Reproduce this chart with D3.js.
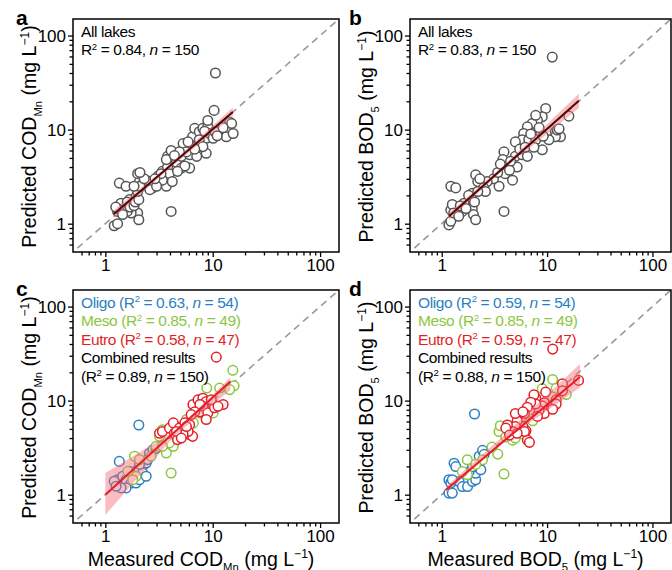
<!DOCTYPE html>
<html><head><meta charset="utf-8">
<script src="https://cdn.jsdelivr.net/npm/d3@7"></script>
<style>body{margin:0;background:#fff}svg text{font-family:"Liberation Sans",Arial,sans-serif}</style>
</head><body><svg id="chart" width="672" height="570"></svg>
<script>
// ---------- data ----------
const majorTicks = [1, 10, 100];
const minorTicks = [0.6,0.7,0.8,0.9,2,3,4,5,6,7,8,9,20,30,40,50,60,70,80,90];
const axisDomain = [0.5, 150];

// Panel a: COD_Mn all lakes (measured, predicted)
const codAll = [[1.35,2.7],[1.21,0.95],[1.3,1.0],[1.3,1.35],[1.4,1.65],[1.68,1.8],[1.8,1.4],[1.56,2.5],[2.08,2.8],[2.0,3.4],[1.94,1.95],[2.0,1.3],[2.05,1.1],[1.74,1.3],[2.2,2.6],[2.4,2.9],[2.77,2.4],[2.6,2.8],
[1.3,1.45],[1.5,1.4],[1.6,1.35],[1.6,1.7],[1.7,1.5],[1.85,1.55],[1.9,1.7],[2.05,1.8],[2.0,2.2],[2.1,2.5],[1.45,1.25],[1.85,2.5],[2.3,3.0],[2.6,2.3],[2.1,3.5],[1.25,1.5],
[3.1,3.2],[3.4,3.6],[3.7,2.5],[3.8,4.0],[3.8,5.2],[4.1,6.0],[4.2,4.8],[3.95,3.4],[4.1,1.35],[4.6,4.5],[5.1,5.2],[5.3,7.1],[5.1,3.9],[6.1,3.9],[6.1,5.4],[6.3,6.6],[6.5,8.4],[6.8,10.3],[7.1,5.2],[7.5,6.6],[7.5,9.5],[8.1,10.3],[8.7,8.1],[8.7,5.6],[9.0,10.8],[9.4,9.1],[10.3,16],[10.1,8.1],[10.5,9.5],[13.4,8.4],[14.4,12],[15.5,9.1],[15,11.6],[5.7,5.8],[4.9,5.8],[3.7,4.8],[3.4,2.9],[4.2,2.8],[3.0,2.5],[5.9,7.4],[7.5,7.8],[8.1,6.6],[5.5,4.1],[4.7,3.6],[10.6,40],[3.3,3.4],[2.9,3.0],[4.4,5.3],[6.8,6.2],[8.4,9.6],[9.0,12.5],[11,8.6],[12.5,10.5]];

// Panel b: BOD5 all lakes
const bodAll = [[11.2,59],[9.7,16.8],[16.1,13.9],[12,9.5],[13.4,8.4],[12,8.4],[12.5,9.9],[9.0,13.7],[8.1,12.6],[7.2,11.6],[7.8,14.2],[6.5,10.7],[6.0,9.1],[5.8,7.8],[6.7,7.8],[8.7,9.1],[9.0,6.1],[7.8,7.8],[10.4,7.8],[5.0,7.4],[5.0,5.2],[5.8,5.4],[5.2,4.0],[6.5,5.2],[3.9,5.8],[3.8,4.8],[3.8,4.1],[4.0,3.4],[4.7,2.9],[3.5,2.5],[3.9,1.35],[3.1,3.0],[2.7,2.8],[2.4,2.5],[2.1,3.3],[2.2,2.8],[1.95,2.1],[1.8,1.7],[1.22,2.5],[1.36,2.4],[1.22,1.4],[1.26,1.6],[1.17,0.97],[1.22,1.06],[1.57,1.35],[1.63,1.65],[1.95,1.45],[2.0,1.25],[2.1,1.1],[1.8,2.0],[2.5,2.4],
[1.3,1.3],[1.5,1.55],[2.05,1.7],[2.3,3.0],[2.6,2.2],[3.4,3.5],[3.6,4.3],[4.5,4.6],[4.4,3.7],[5.5,6.2],[6.2,6.5],[7.0,9.0],[8.4,10.5],[9.2,8.5],[13,10.2],[7.5,6.5],[1.45,1.2],[1.7,1.45],[2.2,2.2]];

// Panel c: COD_Mn by trophic state
const codOligo = [[2.05,5.5],[1.35,2.26],[1.3,1.44],[1.21,1.39],[1.45,1.57],[1.56,1.44],[1.74,1.33],[1.93,1.33],[2.08,1.44],[1.8,1.7],[2.23,2.0],[2.4,2.17],[2.58,2.77],[2.77,3.0],[2.48,2.36],[2.0,1.85],[2.23,1.7],[1.56,1.18],[1.4,1.18],[1.26,1.23],[2.4,1.57],[2.97,3.1],[2.08,2.1],[1.68,1.77]];
const codMeso = [[15.4,21],[15.8,14.4],[8.8,13.6],[14.4,13.1],[4.1,1.7],[1.87,2.56],[1.93,1.57],[1.8,1.44],[2.97,3.27],[3.2,4.17],[3.4,4.9],[3.7,2.77],[4.3,3.27],[4.6,5.3],[5.7,6.3],[7.6,7.4],[9.4,8.4],[10.1,7.4],[6.6,5.8],[4.9,4.0],[3.95,3.55],[2.67,2.56],[2.08,2.36],[11.6,13.6],[1.62,1.77],[3.4,3.27]];
const codEutro = [[10.8,29],[3.2,4.5],[3.4,4.7],[3.96,5.1],[4.3,5.8],[4.4,4.5],[4.7,3.85],[4.9,5.1],[5.5,5.8],[6.1,5.55],[6.1,4.35],[6.5,4.17],[5.9,4.7],[5.3,4.35],[5.7,5.3],[7.6,7.6],[7.0,8.7],[6.55,9.1],[7.3,10.2],[8.1,10.6],[8.7,9.8],[8.1,8.7],[9.0,7.4],[8.7,6.3],[10.1,9.1],[10.4,8.4],[7.6,9.1],[12.5,9.1],[6.8,7.6],[6.3,7.1],[9.7,10.2],[11.2,8.7],[4.6,4.7],[5.1,4.0]];

// Panel d: BOD5 by trophic state
const bodOligo = [[2.05,7.2],[1.31,2.16],[1.36,1.99],[1.17,1.44],[1.22,1.33],[1.17,1.04],[1.26,1.04],[1.46,1.38],[1.57,1.22],[1.76,1.22],[1.96,1.38],[2.1,1.44],[2.1,1.69],[1.82,1.76],[2.27,2.16],[2.27,2.56],[2.44,2.96],[2.53,2.68],[2.1,1.98],[2.35,1.84],[1.96,1.98],[1.26,1.44]];
const bodMeso = [[11.3,16.8],[9.0,13.4],[15.2,11.6],[3.9,1.66],[1.75,2.35],[1.75,1.63],[1.57,1.76],[3.5,4.7],[3.6,5.4],[3.4,2.7],[4.06,4.1],[4.7,3.8],[5.9,4.4],[7.3,6.1],[9.0,7.3],[11.3,11.0],[3.0,3.2],[2.44,2.35],[2.1,2.1],[12.2,13.5],[5.0,4.0]];
const bodEutro = [[11.3,35.3],[19.9,16.4],[14,15.1],[14,12.7],[12.2,10.2],[12.2,9.2],[9.7,12.3],[9.4,9.5],[9.0,8.8],[9.4,7.3],[8.4,7.9],[7.8,10.6],[7.5,11.5],[7.8,9.2],[7.0,9.6],[6.5,8.5],[6.1,7.3],[6.3,4.8],[5.9,5.3],[6.5,3.8],[6.8,3.6],[6.1,4.7],[5.2,6.1],[5.0,5.3],[4.7,4.7],[5.0,7.3],[4.2,5.5],[4.06,5.1],[4.4,4.3],[5.2,4.5],[8.1,6.8],[5.9,7.6],[11.3,8.1]];

// fitted lines and confidence bands
const fitA = {x:[1.2,15.4], y:[1.27,15.4], bx:[1.2,4,15.4], lo:[1.15,3.9,13.8], hi:[1.4,4.3,17.2]};
const fitB = {x:[1.17,20], y:[1.2,20.3], bx:[1.17,4,20], lo:[1.1,3.9,17], hi:[1.3,4.3,24]};
const fitC = {x:[1.0,14.6], y:[1.0,16], bx:[1.0,4.5,14.6], lo:[0.61,4.3,13], hi:[1.7,4.8,17.6]};
const fitD = {x:[1.1,20.5], y:[1.13,17.8], bx:[1.1,4,20.5], lo:[1.05,3.8,13.8], hi:[1.22,4.4,24.5]};

const colOligo = "#2a7fc0", colMeso = "#8cc63f", colEutro = "#e41e26";

// ---------- drawing ----------
const svg = d3.select("#chart");
const FONT = 15.5;

function rich(g, x, y, parts, o) {
  const t = g.append("text").attr("x", x).attr("y", y).attr("font-size", o.size).attr("fill", o.fill || "#000");
  if (o.rotate) t.attr("transform", `rotate(-90 ${x} ${y})`);
  if (o.anchor) t.attr("text-anchor", o.anchor);
  if (o.spacing) t.attr("letter-spacing", o.spacing);
  let shift = 0;
  parts.forEach(p => {
    const s = t.append("tspan").text(p.t);
    let target = 0;
    if (p.sup) { target = -o.size * 0.38; s.attr("font-size", o.size * 0.62); }
    if (p.sub) { target = o.size * 0.3; s.attr("font-size", o.size * 0.58); }
    if (p.it) s.attr("font-style", "italic");
    if (target !== shift) { s.attr("dy", target - shift); shift = target; }
  });
  return t;
}

function panel(cfg) {
  const g = svg.append("g");
  const x = d3.scaleLog().domain(axisDomain).range([cfg.l, cfg.r]);
  const y = d3.scaleLog().domain(axisDomain).range([cfg.b, cfg.t]);
  const ax = g.append("g").attr("transform", `translate(0,${cfg.b})`)
    .call(d3.axisBottom(x).tickValues(majorTicks).tickSize(5).tickPadding(2).tickFormat(d3.format("d")));
  const axm = g.append("g").attr("transform", `translate(0,${cfg.b})`)
    .call(d3.axisBottom(x).tickValues(minorTicks).tickSize(3.5).tickFormat(""));
  const ay = g.append("g").attr("transform", `translate(${cfg.l},0)`)
    .call(d3.axisLeft(y).tickValues(majorTicks).tickSize(5).tickPadding(2).tickFormat(d3.format("d")));
  const aym = g.append("g").attr("transform", `translate(${cfg.l},0)`)
    .call(d3.axisLeft(y).tickValues(minorTicks).tickSize(3.5).tickFormat(""));
  [ax, axm, ay, aym].forEach(a => {
    a.select(".domain").remove();
    a.selectAll("line").attr("stroke", "#000").attr("stroke-width", 1.3);
    a.selectAll("text").attr("font-size", 17).attr("fill", "#000").attr("font-family", '"Liberation Sans",Arial,sans-serif');
  });
  g.append("line").attr("x1", x(0.55)).attr("y1", y(0.55)).attr("x2", x(150)).attr("y2", y(150))
    .attr("stroke", "#999").attr("stroke-width", 1.6).attr("stroke-dasharray", "7,5");
  cfg.series.forEach(s => {
    g.append("g").selectAll("circle").data(s.data).join("circle")
      .attr("cx", d => x(d[0])).attr("cy", d => y(d[1])).attr("r", 4.8)
      .attr("fill", "#fff").attr("stroke", s.color).attr("stroke-width", 1.5);
  });
  const f = cfg.fit;
  const bandData = f.bx.map((v, i) => ({x: v, lo: f.lo[i], hi: f.hi[i]}));
  g.append("path").datum(bandData)
    .attr("d", d3.area().x(d => x(d.x)).y0(d => y(d.lo)).y1(d => y(d.hi)))
    .attr("fill", "#f36b73").attr("fill-opacity", 0.45);
  g.append("line").attr("x1", x(f.x[0])).attr("y1", y(f.y[0])).attr("x2", x(f.x[1])).attr("y2", y(f.y[1]))
    .attr("stroke", cfg.lineColor).attr("stroke-width", 2);
  g.append("rect").attr("x", cfg.l).attr("y", cfg.t).attr("width", cfg.r - cfg.l).attr("height", cfg.b - cfg.t)
    .attr("fill", "none").attr("stroke", "#000").attr("stroke-width", 1.5);
  g.append("text").attr("x", cfg.lx).attr("y", cfg.t + 6).attr("font-size", 21).attr("font-weight", "bold").text(cfg.letter);
  rich(g, cfg.l - 37, (cfg.t + cfg.b) / 2 + 1, cfg.ytitle, {size: 19.5, rotate: true, anchor: "middle"});
  if (cfg.xtitle) rich(g, (cfg.l + cfg.r) / 2 - 5, cfg.b + 42.5, cfg.xtitle, {size: 19.5, anchor: "middle"});
  cfg.notes.forEach((n, i) => rich(g, cfg.l + 8, cfg.t + 18 + i * 18.4, n.parts, {size: FONT, fill: n.fill, spacing: -0.4}));
}

const tCOD = [{t: "Predicted COD"}, {t: "Mn", sub: true}, {t: " (mg L"}, {t: "\u22121", sup: true}, {t: ")"}];
const tBOD = [{t: "Predicted BOD"}, {t: "5", sub: true}, {t: " (mg L"}, {t: "\u22121", sup: true}, {t: ")"}];
const r2 = (v, n) => [{t: "R"}, {t: "2", sup: true}, {t: " = " + v + ", "}, {t: "n", it: true}, {t: " = " + n}];
const lg = (name, v, n) => [{t: name + " ("}, ...r2(v, n), {t: ")"}];

panel({l: 73, r: 339, t: 19, b: 252, lx: 16, letter: "a", lineColor: "#4a0a0a", fit: fitA, ytitle: tCOD,
  series: [{data: codAll, color: "#555"}],
  notes: [{parts: [{t: "All lakes"}]}, {parts: r2("0.84", 150)}]});
panel({l: 410, r: 671, t: 19, b: 252, lx: 349, letter: "b", lineColor: "#4a0a0a", fit: fitB, ytitle: tBOD,
  series: [{data: bodAll, color: "#555"}],
  notes: [{parts: [{t: "All lakes"}]}, {parts: r2("0.83", 150)}]});
panel({l: 73, r: 339, t: 290, b: 523, lx: 16, letter: "c", lineColor: "#e41e26", fit: fitC, ytitle: tCOD,
  xtitle: [{t: "Measured COD"}, {t: "Mn", sub: true}, {t: " (mg L"}, {t: "\u22121", sup: true}, {t: ")"}],
  series: [{data: codOligo, color: colOligo}, {data: codMeso, color: colMeso}, {data: codEutro, color: colEutro}],
  notes: [{parts: lg("Oligo", "0.63", 54), fill: colOligo}, {parts: lg("Meso", "0.85", 49), fill: colMeso},
          {parts: lg("Eutro", "0.58", 47), fill: colEutro}, {parts: [{t: "Combined results"}]},
          {parts: [{t: "("}, ...r2("0.89", 150), {t: ")"}]}]});
panel({l: 410, r: 671, t: 290, b: 523, lx: 349, letter: "d", lineColor: "#e41e26", fit: fitD, ytitle: tBOD,
  xtitle: [{t: "Measured BOD"}, {t: "5", sub: true}, {t: " (mg L"}, {t: "\u22121", sup: true}, {t: ")"}],
  series: [{data: bodOligo, color: colOligo}, {data: bodMeso, color: colMeso}, {data: bodEutro, color: colEutro}],
  notes: [{parts: lg("Oligo", "0.59", 54), fill: colOligo}, {parts: lg("Meso", "0.85", 49), fill: colMeso},
          {parts: lg("Eutro", "0.59", 47), fill: colEutro}, {parts: [{t: "Combined results"}]},
          {parts: [{t: "("}, ...r2("0.88", 150), {t: ")"}]}]});
</script></body></html>
